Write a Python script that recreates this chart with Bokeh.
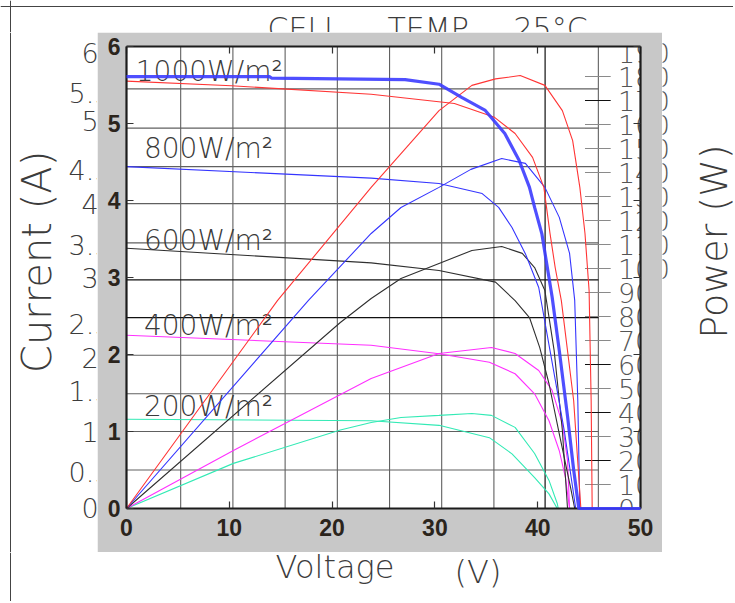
import numpy as np
from bokeh.plotting import figure
from bokeh.layouts import column, row
from bokeh.models import Range1d, LinearAxis, FixedTicker, Span
from bokeh.embed import file_html
from bokeh.resources import INLINE
from bokeh.core.properties import value

# ---------------- data ----------------
# overlay axes
x_ticks = [0, 10, 20, 30, 40, 50]
y_ticks = [0, 1, 2, 3, 4, 5, 6]

# overlay thick I-V curve (V, A)
sim_v = [0, 13.9, 14.1, 27.1, 30.4, 32.6, 34.9, 36.8, 38.2, 39.2, 39.7, 40.4, 41.4, 42.1, 42.9, 43.5, 44.0, 50.0]
sim_i = [5.61, 5.61, 5.59, 5.57, 5.51, 5.34, 5.17, 4.87, 4.52, 4.17, 3.91, 3.57, 2.75, 2.05, 1.20, 0.50, 0.0, 0.0]

# underlying scanned chart: I-V curves (V, A)
iv1000_v = [0, 10.2, 23.8, 31.9, 35.8, 37.8, 39.5, 40.6, 41.2, 41.7, 42.3, 43.5, 44.2]
iv1000_i = [5.55, 5.49, 5.38, 5.26, 5.08, 4.87, 4.56, 4.17, 3.57, 3.13, 2.70, 1.40, 0.0]
iv800_v = [0, 23.8, 30.4, 34.6, 36.2, 37.5, 38.8, 40.1, 41.2, 42.6, 43.7]
iv800_i = [4.44, 4.29, 4.22, 4.09, 3.91, 3.65, 3.31, 2.87, 2.05, 1.00, 0.0]
iv600_v = [0, 23.8, 30.4, 35.9, 37.8, 39.2, 40.2, 41.1, 42.1, 43.2, 43.6]
iv600_i = [3.38, 3.19, 3.09, 2.94, 2.70, 2.48, 2.09, 1.62, 0.97, 0.27, 0.0]
iv400_v = [0, 23.8, 30.4, 35.3, 37.8, 39.7, 41.1, 42.1, 42.7, 43.1]
iv400_i = [2.25, 2.12, 2.01, 1.90, 1.75, 1.49, 1.14, 0.75, 0.40, 0.0]
iv200_v = [0, 23.8, 30.4, 35.3, 37.5, 39.7, 41.1, 41.9]
iv200_i = [1.16, 1.14, 1.08, 0.92, 0.71, 0.40, 0.19, 0.0]

# underlying scanned chart: P-V curves (V, W)
pv1000_v = [0, 14.7, 23.8, 30.4, 33.6, 35.9, 38.3, 40.7, 42.4, 43.4, 44.1, 44.6, 45.0, 45.2, 45.3]
pv1000_p = [0, 86.7, 133.8, 165.8, 176.3, 179.0, 180.4, 176.3, 165.8, 153.3, 133.8, 114.6, 90.8, 45.0, 0.0]
pv800_v = [0, 17.7, 23.8, 26.7, 30.4, 33.5, 36.5, 38.8, 40.7, 42.1, 43.1, 43.6, 43.9, 44.1]
pv800_p = [0, 86.7, 114.6, 125.4, 133.8, 141.3, 145.8, 143.8, 133.8, 121.3, 106.3, 86.7, 45.0, 0.0]
pv600_v = [0, 20.8, 23.8, 26.7, 30.4, 33.6, 36.5, 38.5, 39.7, 40.7, 41.6, 42.4, 42.9]
pv600_p = [0, 77.5, 87.5, 95.8, 102.1, 107.5, 109.2, 106.3, 100.4, 90.8, 65.8, 32.5, 0.0]
pv400_v = [0, 10.4, 23.8, 30.4, 35.5, 37.8, 40.1, 41.4, 42.4, 42.9, 43.1]
pv400_p = [0, 24.2, 54.2, 64.6, 67.1, 64.6, 57.5, 49.2, 35.4, 20.0, 0.0]
pv200_v = [0, 10.4, 20.8, 23.8, 26.7, 30.4, 33.6, 35.5, 37.8, 39.7, 41.1, 41.9, 42.0]
pv200_p = [0, 18.8, 32.7, 35.8, 37.9, 38.8, 39.6, 38.8, 33.8, 22.9, 11.7, 2.1, 0.0]

# underlying grid (in overlay units)
grid_v = [5.27, 10.35, 15.43, 20.51, 25.59, 30.66, 35.74, 40.72, 45.9]
grid_i = [0.5, 1.0, 1.49, 1.99, 2.48, 2.97, 3.45, 3.96, 4.44, 4.94, 5.45]
grid_v_dark = [40.72]
grid_i_dark = [2.48, 2.97]

# underlying current tick labels and their read positions (A)
under_cur_labels = ["6", "5.5", "5", "4.5", "4", "3.5", "3", "2.5", "2", "1.5", "1", "0.5", "0"]
under_cur_pos = [5.92, 5.40, 5.03, 4.39, 3.96, 3.42, 3.0, 2.40, 1.96, 1.52, 0.99, 0.47, 0.01]

# underlying power axis (W)
power_ticks = [10, 20, 30, 40, 50, 60, 70, 80, 90, 100, 110, 120, 130, 140, 150, 160, 170, 180]
power_ticks_dark = [20, 40, 60, 170]
power_labels = [0, 10, 20, 30, 40, 50, 60, 70, 80, 90, 100, 110, 120, 130, 140, 150, 160, 170, 180, 190]

# irradiance labels
irr_text = ["1000W/m²", "800W/m²", "600W/m²", "400W/m²", "200W/m²"]
irr_v = [0.9, 1.7, 1.7, 1.7, 1.7]
irr_i = [5.67, 4.68, 3.48, 2.38, 1.32]

# ---------------- geometry (page px) ----------------
PW, PH = 733, 601
GL, GR, GT, GB = 97, 662, 32, 552        # grey frame
FL, FR, FT, FB = 126, 640, 46, 508       # plot frame
PX_PER_A = (FB - FT) / 6.0
PX_PER_W = 2.4

UF = "DejaVu Sans Light"
UC = "#3c3c3c"
TICKF = "Liberation Sans"


def no_align(f):
    try:
        f.frame_align = False
    except Exception:
        pass
    try:
        f.title.visible = False
    except Exception:
        pass


def blank(w, h, xr, yr):
    f = figure(width=w, height=h, x_range=xr, y_range=yr, output_backend="svg",
               toolbar_location=None, x_axis_location=None, y_axis_location=None)
    for g in f.grid:
        g.visible = False
    f.outline_line_color = None
    f.background_fill_color = "white"
    f.border_fill_color = "white"
    f.min_border_left = f.min_border_right = f.min_border_top = f.min_border_bottom = 0
    no_align(f)
    return f


border_kw = dict(line_color="#444444", line_width=1)

# ---------- top strip: title ----------
top = blank(PW, GT, Range1d(0, PW), Range1d(GT, 0))
top.add_layout(Span(location=6, dimension="width", **border_kw))
top.add_layout(Span(location=10, dimension="height", **border_kw))
top.text(x=[267, 387, 513], y=[28, 28, 28], text=["CELL", "TEMP.", "25°C"],
         text_font=value(UF), text_font_size="30px", text_color=UC, text_baseline="middle")

# ---------- left strip: current label + underlying tick labels ----------
a_lo = -(GB - FB) / PX_PER_A
a_hi = 6 + (FT - GT) / PX_PER_A
left = blank(GL, GB - GT, Range1d(0, GL), Range1d(a_lo, a_hi))
left.add_layout(Span(location=10, dimension="height", **border_kw))
left.text(x=[89.5] * len(under_cur_labels), y=under_cur_pos, text=under_cur_labels,
          text_font=value(UF), text_font_size="27px", text_color=UC,
          text_align="center", text_baseline="middle")
left.text(x=[36.5], y=[(FB - 255) / PX_PER_A], text=["Current  (A)"], angle=np.pi / 2,
          text_font=value(UF), text_font_size="40px", text_color=UC,
          text_align="center", text_baseline="middle")

# ---------- right strip: power label + right ends of underlying labels ----------
w_lo = -(GB - FB) / PX_PER_W
w_hi = (FB - GT) / PX_PER_W
right = blank(PW - GR, GB - GT, Range1d(GR, PW), Range1d(w_lo, w_hi))
three_digit = [v for v in power_labels if v >= 100]
right.text(x=[669.5] * len(three_digit), y=three_digit, text=[str(v) for v in three_digit],
           text_font=value(UF), text_font_size="27px", text_color="#555555",
           text_align="right", text_baseline="middle")
right.text(x=[713.5], y=[(FB - 235) / PX_PER_W], text=["Power  (W)"], angle=np.pi / 2,
           text_font=value(UF), text_font_size="38px", text_color=UC,
           text_align="center", text_baseline="middle")

# ---------- bottom strip: voltage label ----------
bottom = blank(PW, PH - GB, Range1d(0, PW), Range1d(PH, GB))
bottom.add_layout(Span(location=10, dimension="height", **border_kw))
bottom.text(x=[275, 454], y=[566, 571], text=["Voltage", "(V)"],
            text_font=value(UF), text_font_size="32px", text_color=UC, text_baseline="middle")

# ---------- main plot (grey frame) ----------
p = figure(width=GR - GL, height=GB - GT, x_range=Range1d(0, 50), y_range=Range1d(0, 6),
           output_backend="svg", toolbar_location=None,
           x_axis_location=None, y_axis_location=None)
no_align(p)
p.extra_y_ranges = {"power": Range1d(0, (FB - FT) / PX_PER_W)}
for g in p.grid:
    g.visible = False
p.outline_line_color = None
p.background_fill_color = "white"
p.border_fill_color = "#c8c8c8"
p.min_border_left = FL - GL
p.min_border_right = GR - FR
p.min_border_top = FT - GT
p.min_border_bottom = GB - FB

# underlying grid
gv_light = [v for v in grid_v if v not in grid_v_dark]
p.segment(x0=gv_light, y0=[0] * len(gv_light), x1=gv_light, y1=[6] * len(gv_light),
          line_color="#606060", line_width=1.1)
p.segment(x0=grid_v_dark, y0=[0] * len(grid_v_dark), x1=grid_v_dark, y1=[6] * len(grid_v_dark),
          line_color="#111111", line_width=1.2)
gi_light = [v for v in grid_i if v not in grid_i_dark]
xr = grid_v[-1]
p.segment(x0=[0] * len(gi_light), y0=gi_light, x1=[xr] * len(gi_light), y1=gi_light,
          line_color="#606060", line_width=1.1)
p.segment(x0=[0] * len(grid_i_dark), y0=grid_i_dark, x1=[xr] * len(grid_i_dark), y1=grid_i_dark,
          line_color="#111111", line_width=1.2)

# underlying power ticks and labels
pt_light = [t for t in power_ticks if t not in power_ticks_dark]
p.segment(x0=[44.6] * len(pt_light), y0=pt_light, x1=[47.1] * len(pt_light), y1=pt_light,
          line_color="#8a8a8a", line_width=1.2, y_range_name="power")
p.segment(x0=[44.6] * len(power_ticks_dark), y0=power_ticks_dark, x1=[47.1] * len(power_ticks_dark),
          y1=power_ticks_dark, line_color="#111111", line_width=1.2, y_range_name="power")
p.text(x=[47.8] * len(power_labels), y=power_labels, text=[str(v) for v in power_labels],
       text_font=value(UF), text_font_size="27px", text_color="#555555",
       text_align="left", text_baseline="middle", y_range_name="power")

# irradiance labels
p.text(x=irr_v, y=irr_i, text=irr_text, text_font=value(UF), text_font_size="28px",
       text_color="#3a3a3a", text_baseline="middle", text_align="left")

# curves
cols = {"1000": "#ff3535", "800": "#3535ff", "600": "#303030", "400": "#ff30ff", "200": "#33eab5"}
p.line(iv200_v, iv200_i, line_color=cols["200"], line_width=1.1)
p.line(pv200_v, pv200_p, line_color=cols["200"], line_width=1.1, y_range_name="power")
p.line(iv400_v, iv400_i, line_color=cols["400"], line_width=1.1)
p.line(pv400_v, pv400_p, line_color=cols["400"], line_width=1.1, y_range_name="power")
p.line(iv600_v, iv600_i, line_color=cols["600"], line_width=1.1)
p.line(pv600_v, pv600_p, line_color=cols["600"], line_width=1.1, y_range_name="power")
p.line(iv800_v, iv800_i, line_color=cols["800"], line_width=1.1)
p.line(pv800_v, pv800_p, line_color=cols["800"], line_width=1.1, y_range_name="power")
p.line(iv1000_v, iv1000_i, line_color=cols["1000"], line_width=1.1)
p.line(pv1000_v, pv1000_p, line_color=cols["1000"], line_width=1.1, y_range_name="power")

# overlay thick curve (drawn above the axes)
thick = p.line(sim_v, sim_i, line_color="#3c3cff", line_width=3.2, line_alpha=0.9)
thick.level = "overlay"


def make_axis(ticks, labels, standoff):
    ax = LinearAxis(ticker=FixedTicker(ticks=ticks),
                    major_tick_in=7, major_tick_out=0,
                    minor_tick_line_color=None,
                    axis_line_width=2.2, axis_line_color="#1c1c1c",
                    major_tick_line_color="#333333", major_tick_line_width=1.2,
                    major_label_text_font=TICKF, major_label_text_font_style="bold",
                    major_label_text_font_size="23px",
                    major_label_text_color="#2b241c" if labels else None,
                    major_label_standoff=standoff)
    return ax


p.add_layout(make_axis(x_ticks, True, 10), "below")
p.add_layout(make_axis(x_ticks, False, 2), "above")
p.add_layout(make_axis(y_ticks, True, 6), "left")
p.add_layout(make_axis(y_ticks, False, 2), "right")

layout = column(top, row(left, p, right, spacing=0), bottom, spacing=0)

open("out.html", "w").write(file_html(layout, INLINE))
